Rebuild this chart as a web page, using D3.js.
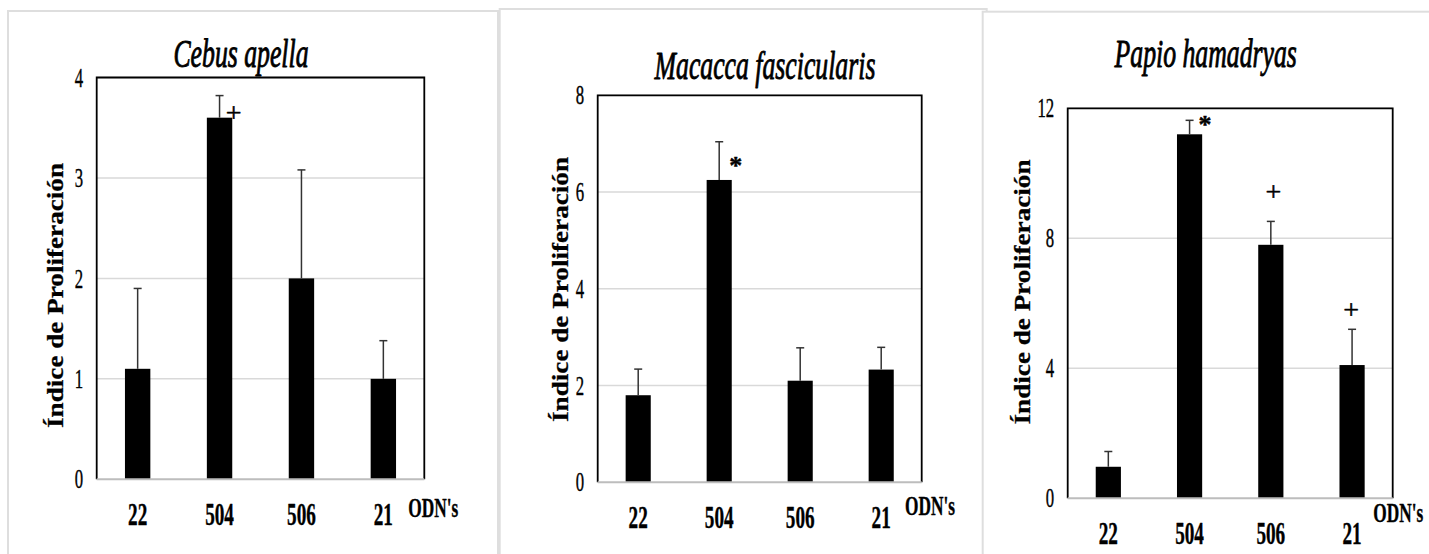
<!DOCTYPE html>
<html>
<head>
<meta charset="utf-8">
<script src="https://cdn.jsdelivr.net/npm/d3@7/dist/d3.min.js"></script>
<style>
  html, body { margin: 0; padding: 0; background: #fff; }
  svg { display: block; }
</style>
</head>
<body>
<svg id="chart" width="1429" height="554"></svg>
<script>
// ODN categories shared by the three species panels
const categories = ["22", "504", "506", "21"];

// Cebus apella: mean proliferation index and upper error (SD)
const cebusValues = [1.1, 3.6, 2.0, 1.0];
const cebusErrors = [0.8, 0.22, 1.08, 0.38];
const cebusMarks  = ["", "+", "", ""];
const cebusTicks  = [0, 1, 2, 3, 4];

// Macacca fascicularis
const macaccaValues = [1.8, 6.25, 2.1, 2.33];
const macaccaErrors = [0.54, 0.79, 0.68, 0.46];
const macaccaMarks  = ["", "*", "", ""];
const macaccaTicks  = [0, 2, 4, 6, 8];

// Papio hamadryas
const papioValues = [0.97, 11.2, 7.8, 4.1];
const papioErrors = [0.47, 0.43, 0.72, 1.1];
const papioMarks  = ["", "*", "+", "+"];
const papioTicks  = [0, 4, 8, 12];

const yTitle = "Índice de Proliferación";
const xTitle = "ODN's";

const FONT = "'Liberation Serif', 'Times New Roman', serif";
// horizontal squeeze applied to the narrow serif lettering
const SQ = { title: 0.66, tick: 0.62, cat: 0.6, odn: 0.64, ylab: 0.92 };

const panels = [
  {
    title: "Cebus apella", values: cebusValues, errors: cebusErrors, marks: cebusMarks, ticks: cebusTicks,
    frame: { x: 8, y: 11, w: 490, h: 600 },
    plot: { l: 96.7, t: 77.5, r: 424.3, b: 479.3 },
    titlePos: [241, 66.7], ylabPos: [54.7, 295.5], odnPos: [408.3, 516.7],
    markOffsets: [null, [14, 18.4], null, null]
  },
  {
    title: "Macacca fascicularis", values: macaccaValues, errors: macaccaErrors, marks: macaccaMarks, ticks: macaccaTicks,
    frame: { x: 499.7, y: 9, w: 487, h: 600 },
    plot: { l: 597.7, t: 95.3, r: 921.7, b: 482.3 },
    titlePos: [765, 79.4], ylabPos: [560, 289.5], odnPos: [905, 515],
    markOffsets: [null, [16.5, 19], null, null]
  },
  {
    title: "Papio hamadryas", values: papioValues, errors: papioErrors, marks: papioMarks, ticks: papioTicks,
    frame: { x: 982.7, y: 11.7, w: 480, h: 600 },
    plot: { l: 1067.7, t: 108.3, r: 1392.7, b: 498.3 },
    titlePos: [1205.7, 67], ylabPos: [1021.7, 292], odnPos: [1373.3, 521.7],
    markOffsets: [null, [15.3, -0.7], [2.5, -29], [-1, -18.4]]
  }
];

const svg = d3.select("#chart");
svg.append("rect").attr("width", 1429).attr("height", 554).attr("fill", "#fff");

// common look for lettering: slightly heavier than the bare outline
function ink(sel, w) {
  return sel.attr("font-family", FONT).attr("fill", "#000")
    .attr("stroke", "#000").attr("stroke-width", w).attr("stroke-linejoin", "round");
}

panels.forEach(p => {
  const g = svg.append("g");

  // panel card outline
  g.append("rect")
    .attr("x", p.frame.x).attr("y", p.frame.y)
    .attr("width", p.frame.w).attr("height", p.frame.h)
    .attr("fill", "#fff").attr("stroke", "#dedede").attr("stroke-width", 2);

  const x = d3.scaleBand().domain(categories)
    .range([p.plot.l, p.plot.r]).paddingInner(0.69).paddingOuter(0.345);
  const y = d3.scaleLinear().domain([0, d3.max(p.ticks)])
    .range([p.plot.b, p.plot.t]);

  // horizontal gridlines
  g.append("g").selectAll("line").data(p.ticks.filter(t => t > 0)).join("line")
    .attr("x1", p.plot.l).attr("x2", p.plot.r)
    .attr("y1", d => y(d)).attr("y2", d => y(d))
    .attr("stroke", "#d9d9d9").attr("stroke-width", 1.5);

  // bars
  const rows = categories.map((c, i) => ({ c, v: p.values[i], e: p.errors[i], m: p.marks[i], off: p.markOffsets[i] }));
  g.append("g").selectAll("rect").data(rows).join("rect")
    .attr("x", d => x(d.c)).attr("width", x.bandwidth())
    .attr("y", d => y(d.v)).attr("height", d => y(0) - y(d.v))
    .attr("fill", "#000");

  // upper error bars
  const eb = g.append("g").attr("stroke", "#333").attr("stroke-width", 1.5);
  eb.selectAll("line.v").data(rows).join("line").attr("class", "v")
    .attr("x1", d => x(d.c) + x.bandwidth() / 2).attr("x2", d => x(d.c) + x.bandwidth() / 2)
    .attr("y1", d => y(d.v)).attr("y2", d => y(d.v + d.e));
  eb.selectAll("line.c").data(rows).join("line").attr("class", "c")
    .attr("x1", d => x(d.c) + x.bandwidth() / 2 - 4).attr("x2", d => x(d.c) + x.bandwidth() / 2 + 4)
    .attr("y1", d => y(d.v + d.e)).attr("y2", d => y(d.v + d.e));

  // significance marks
  ink(g.append("g").selectAll("text").data(rows.filter(d => d.m)).join("text"), 0.5)
    .attr("transform", d => {
      const cx = x(d.c) + x.bandwidth() / 2 + d.off[0];
      const cy = y(d.v + d.e) + d.off[1];
      return `translate(${cx},${cy})`;
    })
    .attr("text-anchor", "middle")
    .attr("dy", d => d.m === "*" ? "0.52em" : "0.3em")
    .attr("font-weight", d => d.m === "*" ? "bold" : "normal")
    .attr("font-size", d => d.m === "*" ? 26 : 28)
    .text(d => d.m);

  // plot border (black top/left/right, grey baseline)
  g.append("path")
    .attr("d", `M${p.plot.l},${p.plot.b}V${p.plot.t}H${p.plot.r}V${p.plot.b}`)
    .attr("fill", "none").attr("stroke", "#000").attr("stroke-width", 1.8);
  g.append("line")
    .attr("x1", p.plot.l).attr("x2", p.plot.r)
    .attr("y1", p.plot.b).attr("y2", p.plot.b)
    .attr("stroke", "#bdbdbd").attr("stroke-width", 2);

  // y axis tick labels
  const pad = 13.5;
  const ya = g.append("g").attr("transform", `translate(${p.plot.l},0)`)
    .call(d3.axisLeft(y).tickValues(p.ticks).tickSize(0).tickPadding(pad).tickFormat(d3.format("d")));
  ya.select(".domain").remove();
  ink(ya.selectAll("text"), 0.4)
    .attr("x", -pad / SQ.tick)
    .attr("transform", `scale(${SQ.tick},1)`)
    .attr("font-size", 27);

  // x axis category labels
  const xa = g.append("g").attr("transform", `translate(0,${p.plot.b})`)
    .call(d3.axisBottom(x).tickSize(0).tickPadding(0));
  xa.select(".domain").remove();
  ink(xa.selectAll("text"), 0.4)
    .attr("y", 46).attr("dy", 0)
    .attr("transform", `scale(${SQ.cat},1)`)
    .attr("font-weight", "bold").attr("font-size", 32);

  // panel title
  ink(g.append("text"), 0.9)
    .attr("transform", `translate(${p.titlePos[0]},${p.titlePos[1]}) scale(${SQ.title},1)`)
    .attr("text-anchor", "middle")
    .attr("font-style", "italic").attr("font-size", 39)
    .text(p.title);

  // y axis title
  ink(g.append("text"), 0.3)
    .attr("transform", `translate(${p.ylabPos[0]},${p.ylabPos[1]}) scale(${SQ.ylab},1) rotate(-90)`)
    .attr("text-anchor", "middle").attr("dy", "0.35em")
    .attr("font-weight", "bold").attr("font-size", 26)
    .attr("textLength", 265).attr("lengthAdjust", "spacingAndGlyphs")
    .text(yTitle);

  // x axis title
  ink(g.append("text"), 0.4)
    .attr("transform", `translate(${p.odnPos[0]},${p.odnPos[1]}) scale(${SQ.odn},1)`)
    .attr("font-weight", "bold").attr("font-size", 27)
    .text(xTitle);
});
</script>
</body>
</html>
